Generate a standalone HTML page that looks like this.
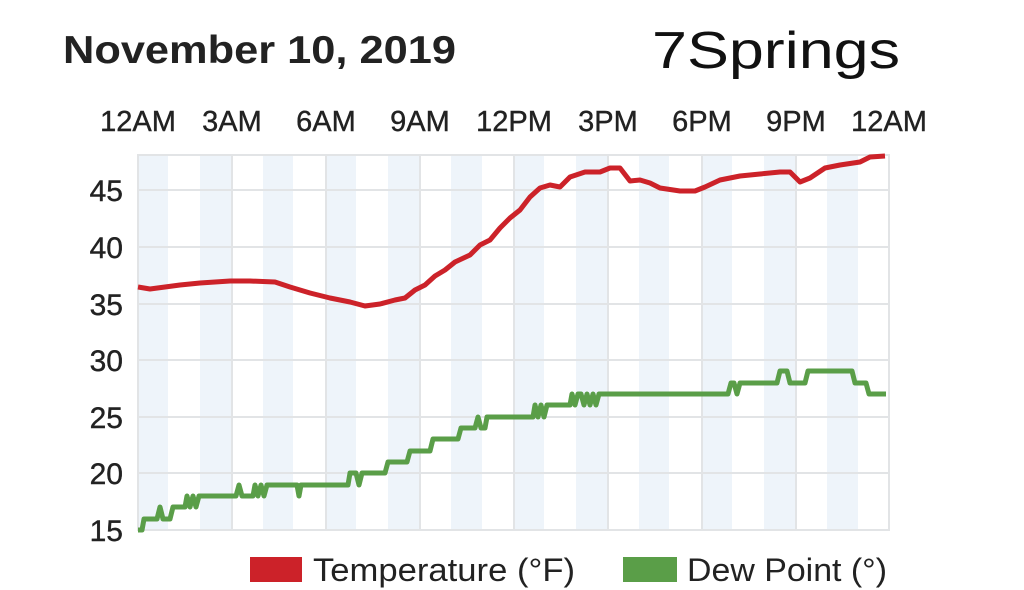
<!DOCTYPE html>
<html><head><meta charset="utf-8"><style>
html,body{margin:0;padding:0;background:#fff;}
svg{display:block;font-family:"Liberation Sans",sans-serif;}
</style></head><body>
<svg width="1024" height="590" viewBox="0 0 1024 590" xmlns="http://www.w3.org/2000/svg">
<rect width="1024" height="590" fill="#fff"/>
<text x="63" y="63" font-size="39" font-weight="bold" fill="#222" textLength="393" lengthAdjust="spacingAndGlyphs">November 10, 2019</text>
<text x="652" y="68" font-size="52" fill="#111" textLength="248" lengthAdjust="spacingAndGlyphs">7Springs</text>
<g font-size="29" fill="#222" text-anchor="middle" stroke="#222" stroke-width="0.4">
<text x="138" y="131">12AM</text><text x="232" y="131">3AM</text><text x="326" y="131">6AM</text><text x="420" y="131">9AM</text><text x="514" y="131">12PM</text><text x="608" y="131">3PM</text><text x="702" y="131">6PM</text><text x="796" y="131">9PM</text><text x="889" y="131">12AM</text>
</g>
<g fill="#eef4fa">
<rect x="138" y="155" width="30" height="375"/><rect x="200" y="155" width="31" height="375"/><rect x="263" y="155" width="30" height="375"/><rect x="326" y="155" width="30" height="375"/><rect x="388" y="155" width="31" height="375"/><rect x="451" y="155" width="31" height="375"/><rect x="514" y="155" width="30" height="375"/><rect x="576" y="155" width="31" height="375"/><rect x="639" y="155" width="30" height="375"/><rect x="702" y="155" width="30" height="375"/><rect x="764" y="155" width="31" height="375"/><rect x="827" y="155" width="31" height="375"/>
</g>
<g stroke="#e2e4e6" stroke-width="2" fill="none">
<rect x="138" y="155" width="751" height="375"/>
<line x1="138" y1="190" x2="889" y2="190"/><line x1="138" y1="247" x2="889" y2="247"/><line x1="138" y1="304" x2="889" y2="304"/><line x1="138" y1="360" x2="889" y2="360"/><line x1="138" y1="417" x2="889" y2="417"/><line x1="138" y1="473" x2="889" y2="473"/>
<line x1="232" y1="155" x2="232" y2="530"/><line x1="326" y1="155" x2="326" y2="530"/><line x1="420" y1="155" x2="420" y2="530"/><line x1="514" y1="155" x2="514" y2="530"/><line x1="608" y1="155" x2="608" y2="530"/><line x1="702" y1="155" x2="702" y2="530"/><line x1="796" y1="155" x2="796" y2="530"/>
</g>
<g font-size="30" fill="#222" text-anchor="end" stroke="#222" stroke-width="0.4">
<text x="123" y="201">45</text><text x="123" y="258">40</text><text x="123" y="315">35</text><text x="123" y="371">30</text><text x="123" y="428">25</text><text x="123" y="484">20</text><text x="123" y="541">15</text>
</g>
<polyline fill="none" stroke="#cc2229" stroke-width="5" stroke-linejoin="round" points="138,287 150,289 165,287 180,285 200,283 230,281 250,281 275,282 290,287 310,293 330,298 350,302 365,306 380,304 395,300 405,298 415,290 425,285 435,276 445,270 455,262 470,255 480,245 490,240 500,228 510,218 520,210 530,197 540,188 550,185 560,187 570,177 585,172 600,172 610,168 620,168 630,181 640,180 650,183 660,188 680,191 695,191 705,187 720,180 740,176 760,174 780,172 790,172 800,182 810,178 825,168 840,165 860,162 870,157 885,156"/>
<polyline fill="none" stroke="#5a9e48" stroke-width="5" stroke-linejoin="round" points="138,530 142,530 144,519 157,519 160,507 163,519 170,519 173,507 185,507 187,496 190,507 193,496 196,507 199,496 236,496 239,485 242,496 253,496 255,485 258,496 261,485 264,496 267,485 297,485 299,496 301,485 348,485 350,473 356,473 359,485 362,473 385,473 388,462 407,462 410,451 430,451 433,439 458,439 461,428 475,428 478,417 481,428 485,428 487,417 533,417 535,405 538,417 541,405 544,417 547,405 555,405 570,405 572,394 575,405 578,394 581,394 584,405 587,394 590,405 593,394 596,405 599,394 611,394 728,394 731,383 734,383 737,394 740,383 777,383 780,371 787,371 790,383 805,383 808,371 852,371 855,383 866,383 869,394 886,394"/>
<rect x="250" y="557" width="52" height="25" fill="#cc2229"/>
<text x="313" y="581" font-size="32" fill="#222" textLength="262" lengthAdjust="spacingAndGlyphs">Temperature (°F)</text>
<rect x="623" y="557" width="54" height="25" fill="#5a9e48"/>
<text x="687" y="581" font-size="32" fill="#222" textLength="200" lengthAdjust="spacingAndGlyphs">Dew Point (°)</text>
</svg>
</body></html>
